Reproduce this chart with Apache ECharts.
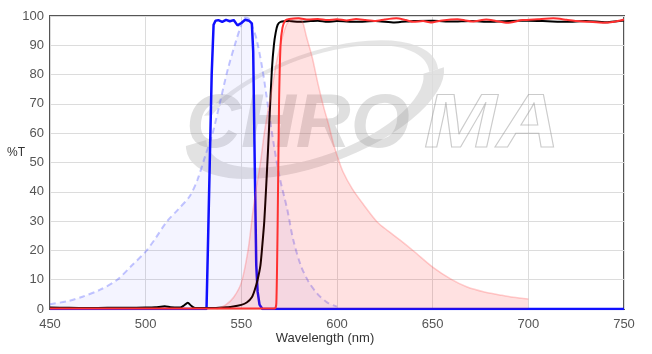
<!DOCTYPE html>
<html>
<head>
<meta charset="utf-8">
<script src="https://cdn.jsdelivr.net/npm/echarts@6/dist/echarts.min.js"></script>
<style>html,body{margin:0;padding:0;background:#fff}#c{width:652px;height:354px}</style>
</head>
<body>
<div id="c"></div>
<script>
// Axis ticks
const xTicks = [450, 500, 550, 600, 650, 700, 750];
const yTicks = [0, 10, 20, 30, 40, 50, 60, 70, 80, 90, 100];

// Excitation spectrum (dashed, lavender fill) [nm, %T]
const excitationSpectrum = [[450,1.6],[460,2.8],[467,4.2],[476,6.5],[485,9.9],[493,15],[500,19.6],[505,24],[511,29.8],[517,34],[523,38.5],[527,44],[531,52],[535,60],[539,71],[543,82],[547,91],[550,97],[552,99.5],[554,99],[556,96],[558,92],[561,82],[564,69],[567,56],[570,45],[574,34],[577,24],[581,15],[585,9.5],[590,5],[595,2.2],[600,0.8]];

// Excitation filter (blue)
const excitationFilter = [[450,0],[531.8,0],[532.5,20],[533.5,50],[534.5,80],[535.5,97],[536.5,98.4],[538,98.6],[540,98],[542,98.7],[544,98.2],[546,98.6],[548,96.8],[550,97.6],[552,98.7],[554,98.4],[555.5,97.5],[556.2,88],[557,50],[557.8,15],[558.5,6],[559.5,1.5],[561,0],[750,0]];

// Dichroic (black)
const dichroic = [[450,0.5],[460,0.4],[470,0.3],[480,0.4],[490,0.4],[500,0.5],[505,0.6],[510,0.9],[513,0.6],[518,0.5],[520,1.2],[522,2.1],[524,1.0],[526,0.3],[530,0.3],[535,0.3],[540,0.5],[545,0.8],[550,1.4],[553,2.3],[555.5,4],[557,6.5],[558.5,10],[560,15],[561,22],[562,30],[563,42],[564,55],[565,69],[566,82],[567,90],[568,94.5],[569,97],[570.5,98],[575,98.3],[580,98.0],[585,98.2],[590,98.4],[595,98.0],[600,98.3],[610,98.0],[620,98.3],[630,97.8],[640,98.3],[650,98.4],[660,98.1],[670,98.3],[680,98.0],[690,98.3],[700,98.4],[710,98.2],[720,98.0],[730,98.3],[740,97.9],[750,98.5]];

// Emission spectrum (pink fill)
const emissionSpectrum = [[537,0],[542,1.5],[546,4],[550,9],[553.5,20],[556,33],[558,42],[560,50],[562,60],[564,68],[566,75],[568,83],[570,89],[572,94],[574,97.5],[577,99],[580,99.3],[582,98],[584,93],[587,86],[590,77],[593,69],[596,62],[598,56.7],[600,52.5],[603,47],[608,41],[614,35.5],[621,29.7],[627,26.5],[633,23.5],[640,19.8],[650,14.3],[660,10],[668,7.5],[677,5.8],[685,4.8],[692,4],[700,3.4]];

// Emission filter (red)
const emissionFilter = [[450,0.2],[500,0.2],[550,0.2],[567.5,0.2],[568.3,2],[569,30],[569.7,70],[570.5,90],[571.5,96],[573,98.5],[575,99.0],[580,99.2],[585,98.8],[590,99.0],[595,98.6],[600,98.9],[605,98.5],[610,99.0],[615,98.6],[620,98.3],[625,98.8],[631,99.2],[636,98.6],[640,98.0],[645,98.3],[649,97.8],[655,98.5],[663,98.9],[667,98.5],[671,98.1],[678,98.8],[683,98.3],[689,97.7],[697,98.6],[705,98.9],[713,99.2],[720,98.7],[725,98.3],[732,98.0],[739,97.7],[745,98.0],[750,98.8]];

const xName = 'Wavelength (nm)';
const yName = '%T';

const chart = echarts.init(document.getElementById('c'), null, {renderer: 'canvas'});
const font = '"Liberation Sans", Arial, sans-serif';
chart.setOption({
  animation: false,
  grid: {left: 50, right: 28, top: 16, bottom: 45, show: true, borderColor: '#555', borderWidth: 2, backgroundColor: 'transparent'},
  xAxis: {
    type: 'value', min: xTicks[0], max: xTicks[xTicks.length-1], interval: 50,
    axisLine: {show: false}, axisTick: {show: false},
    axisLabel: {color: '#555', fontSize: 13, fontFamily: font, margin: 9,
      formatter: v => xTicks.includes(v) ? String(v) : ''},
    splitLine: {show: true, lineStyle: {color: '#dcdcdc', width: 1}}
  },
  yAxis: {
    type: 'value', min: yTicks[0], max: yTicks[yTicks.length-1], interval: 10,
    axisLine: {show: false}, axisTick: {show: false},
    axisLabel: {color: '#555', fontSize: 13, fontFamily: font, margin: 6,
      formatter: v => yTicks.includes(v) ? String(v) : ''},
    splitLine: {show: true, lineStyle: {color: '#dcdcdc', width: 1}}
  },
  graphic: [
    {type: 'group', x: 315, y: 108, rotation: 20 * Math.PI / 180, z: 1, silent: true,
      children: [
        {type: 'arc', scaleY: 0.42, shape: {cx: 0, cy: 0, r: 125, startAngle: 0.1, endAngle: Math.PI + 0.15, clockwise: true},
          style: {stroke: 'rgba(150,150,150,0.28)', lineWidth: 14, fill: null, strokeNoScale: true}},
        {type: 'arc', scaleY: 0.42, shape: {cx: 0, cy: 0, r: 125, startAngle: Math.PI + 0.6, endAngle: 2 * Math.PI + 0.1, clockwise: true},
          style: {stroke: 'rgba(150,150,150,0.25)', lineWidth: 6, fill: null, strokeNoScale: true}}
      ]},
    {type: 'text', x: 186, y: 126, z: 1, silent: true,
      style: {text: 'CHRO', font: 'italic bold 76px "Liberation Sans", Arial, sans-serif', fill: 'rgba(150,150,150,0.3)', verticalAlign: 'middle'}},
    {type: 'text', x: 424, y: 126, z: 1, silent: true, scaleX: 1.15,
      style: {text: 'MA', font: 'italic bold 76px "Liberation Sans", Arial, sans-serif', fill: 'rgba(255,255,255,0)', stroke: 'rgba(140,140,140,0.45)', lineWidth: 1, verticalAlign: 'middle'}},
    {type: 'text', x: 325, y: 338, silent: true,
      style: {text: xName, font: '13px "Liberation Sans", Arial, sans-serif', fill: '#333', align: 'center', verticalAlign: 'middle'}},
    {type: 'text', x: 16, y: 153, silent: true,
      style: {text: yName, font: '12px "Liberation Sans", Arial, sans-serif', fill: '#333', align: 'center', verticalAlign: 'middle'}}
  ],
  series: [
    {name: 'Excitation spectrum', type: 'line', data: excitationSpectrum, showSymbol: false, smooth: 0.3, z: 2,
      lineStyle: {color: 'rgba(80,90,255,0.35)', width: 2, type: [6, 4]},
      areaStyle: {color: 'rgba(110,110,255,0.11)', origin: 'start'}},
    {name: 'Excitation filter', type: 'line', data: excitationFilter, showSymbol: false, z: 3,
      lineStyle: {color: '#1010ff', width: 2.5}},
    {name: 'Dichroic', type: 'line', data: dichroic, showSymbol: false, smooth: 0.2, z: 4,
      lineStyle: {color: '#000', width: 2}},
    {name: 'Emission spectrum', type: 'line', data: emissionSpectrum, showSymbol: false, smooth: 0.3, z: 5,
      lineStyle: {color: 'rgba(255,90,90,0.3)', width: 1.5},
      areaStyle: {color: 'rgba(255,0,0,0.17)', origin: 'start'}},
    {name: 'Emission filter', type: 'line', data: emissionFilter, showSymbol: false, smooth: 0.2, z: 6,
      lineStyle: {color: '#ff3030', width: 2}}
  ]
});
</script>
</body>
</html>
